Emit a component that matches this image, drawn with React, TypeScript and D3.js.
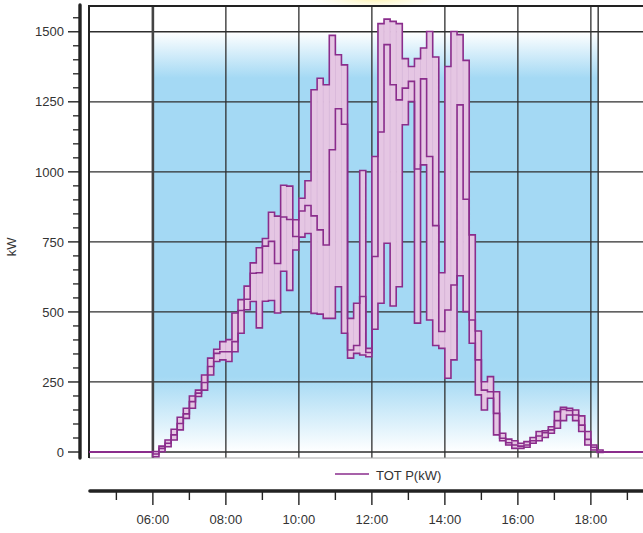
import React from "react";
import * as d3 from "d3";

// ---- data (10-minute intervals starting 06:00) ----
const startHour = 6;
const stepMinutes = 10;
const maxKW = [2, 21, 43, 81, 124, 156, 200, 221, 275, 335, 367, 394, 401, 496, 544, 592, 675, 729, 762, 856, 842, 952, 949, 829, 906, 968, 1293, 1334, 1311, 1487, 1418, 1382, 477, 531, 1005, 370, 1055, 1529, 1545, 1537, 1529, 1404, 1376, 1404, 1442, 1501, 1410, 640, 1376, 1501, 1490, 1398, 775, 432, 251, 269, 215, 67, 46, 40, 31, 37, 52, 73, 76, 90, 144, 160, 156, 150, 129, 73, 25, 7];
const avgKW = [-7, 13, 31, 61, 102, 136, 180, 210, 248, 305, 352, 358, 358, 394, 505, 545, 638, 640, 735, 752, 673, 839, 830, 769, 860, 880, 843, 793, 739, 1079, 1225, 1170, 364, 380, 555, 355, 698, 1142, 1454, 1311, 1257, 1299, 1323, 1010, 1332, 1055, 808, 430, 507, 596, 1239, 902, 471, 329, 221, 215, 138, 49, 33, 25, 21, 25, 40, 57, 69, 79, 112, 152, 148, 132, 96, 45, 17, 1];
const minKW = [-17, 1, 19, 43, 79, 120, 156, 198, 221, 275, 323, 329, 323, 358, 424, 508, 537, 443, 538, 541, 496, 645, 577, 721, 767, 780, 495, 492, 477, 477, 590, 424, 335, 352, 346, 340, 438, 531, 745, 521, 590, 1168, 1251, 460, 1025, 471, 380, 370, 263, 329, 629, 501, 388, 204, 150, 192, 61, 40, 25, 13, 13, 17, 31, 40, 52, 67, 85, 112, 132, 112, 73, 25, 7, -2];
const yTicks = [0, 250, 500, 750, 1000, 1250, 1500];
const xTickLabels = ["06:00", "08:00", "10:00", "12:00", "14:00", "16:00", "18:00"];
const seriesName = "TOT P(kW)";
const yLabel = "kW";
const sunriseHour = 6.0;
const sunsetHour = 18.2;

const W = 643;
const H = 533;
const FONT = "'Liberation Sans', Arial, Helvetica, sans-serif";
const PURPLE = "#8a2d8c";
const PINK = "#e5c6e3";
const BLUE = "#a4d9f4";
const GRID = "#2e2e2e";

function parseHour(s: string) {
  const [h, m] = s.split(":").map(Number);
  return h + m / 60;
}

export default function App() {
  const x = d3.scaleLinear().domain([4.25, 19.75]).range([89, 89 + 15.5 * 36.5]);
  const y = d3.scaleLinear().domain([-21.4, 1592]).range([458, 6]);

  const n = maxKW.length;
  const tAt = (i: number) => startHour + (i * stepMinutes) / 60;
  const tEnd = tAt(n);

  const buildSeries = (vals: number[]) => {
    const pts: [number, number][] = [[4.25, 0]];
    vals.forEach((v, i) => pts.push([tAt(i), v]));
    pts.push([tEnd, 0]);
    pts.push([19.75, 0]);
    return pts;
  };

  const line = d3
    .line<[number, number]>()
    .x((d) => x(d[0]))
    .y((d) => y(d[1]))
    .curve(d3.curveStepAfter);

  const plotL = 89;
  const plotR = W;
  const plotT = 6;
  const plotB = 458;

  const minorY = d3.range(50, 1600, 50).filter((v) => v % 250 !== 0);
  const hourTicks = d3.range(5, 20, 1);

  const xSunrise = x(sunriseHour);
  const xSunset = x(sunsetHour);

  return (
    <svg
      width={W}
      height={H}
      style={{ position: "absolute", left: 0, top: 0, background: "#fff" }}
      fontFamily={FONT}
    >
      <defs>
        <linearGradient id="dayGrad" x1="0" y1="0" x2="0" y2="1">
          <stop offset="0" stopColor="#ffffff" />
          <stop offset="0.11" stopColor={BLUE} />
          <stop offset="0.82" stopColor={BLUE} />
          <stop offset="1" stopColor="#ffffff" />
        </linearGradient>
        <radialGradient id="sunGrad" cx="0.5" cy="0.5" r="0.5">
          <stop offset="0" stopColor="#fff3a0" stopOpacity="0.95" />
          <stop offset="1" stopColor="#fffbe0" stopOpacity="0" />
        </radialGradient>
        <clipPath id="plotClip">
          <rect x={plotL} y={plotT} width={plotR - plotL} height={plotB - plotT} />
        </clipPath>
      </defs>

      {/* sun glow at the top */}
      <ellipse cx={375} cy={-2} rx={70} ry={12} fill="url(#sunGrad)" />

      {/* daylight band */}
      <rect
        x={xSunrise}
        y={y(1500)}
        width={xSunset - xSunrise}
        height={y(0) - y(1500)}
        fill="url(#dayGrad)"
      />

      {/* horizontal grid */}
      {yTicks.map((v) => (
        <line key={"hg" + v} x1={plotL} x2={plotR} y1={y(v)} y2={y(v)} stroke={GRID} strokeWidth={1.3} />
      ))}
      {/* vertical grid */}
      {xTickLabels.map((lbl) => (
        <line
          key={"vg" + lbl}
          x1={x(parseHour(lbl))}
          x2={x(parseHour(lbl))}
          y1={plotT}
          y2={plotB}
          stroke={GRID}
          strokeWidth={1.3}
        />
      ))}
      {/* sunrise / sunset markers */}
      <line x1={xSunrise} x2={xSunrise} y1={plotT} y2={plotB} stroke="#444" strokeWidth={2.6} />
      <line x1={xSunset} x2={xSunset} y1={plotT} y2={plotB} stroke="#333" strokeWidth={1.4} />

      {/* plot frame */}
      <line x1={plotL} x2={plotR} y1={plotT} y2={plotT} stroke="#222" strokeWidth={2} />
      <line x1={plotL} x2={plotR} y1={plotB} y2={plotB} stroke="#a8a8a8" strokeWidth={1.2} />
      <line x1={plotL} x2={plotL} y1={plotT - 1} y2={plotB} stroke="#222" strokeWidth={2} />

      {/* series */}
      <g clipPath="url(#plotClip)">
        {maxKW.map((mx, i) => (
          <rect
            key={"r" + i}
            x={x(tAt(i))}
            y={y(Math.max(mx, minKW[i]))}
            width={x(tAt(i + 1)) - x(tAt(i))}
            height={Math.abs(y(minKW[i]) - y(mx))}
            fill={PINK}
            stroke="#d9b6d9"
            strokeWidth={0.7}
          />
        ))}
        {[minKW, avgKW, maxKW].map((vals, k) => (
          <path
            key={"l" + k}
            d={line(buildSeries(vals)) || ""}
            fill="none"
            stroke={PURPLE}
            strokeWidth={1.6}
            strokeLinejoin="miter"
          />
        ))}
      </g>

      {/* y axis */}
      <line x1={80} x2={80} y1={5} y2={458} stroke="#222" strokeWidth={3.4} strokeLinecap="round" />
      {yTicks.map((v) => (
        <g key={"yt" + v}>
          <line x1={68} x2={80} y1={y(v)} y2={y(v)} stroke="#222" strokeWidth={1.4} />
          <text x={64} y={y(v)} dy="0.36em" textAnchor="end" fontSize={13} fill="#333">
            {v}
          </text>
        </g>
      ))}
      {minorY.map((v) => (
        <line key={"ym" + v} x1={73} x2={80} y1={y(v)} y2={y(v)} stroke="#222" strokeWidth={1.3} />
      ))}
      <text
        transform={`translate(16,${(y(0) + y(1500)) / 2 + 5}) rotate(-90)`}
        textAnchor="middle"
        fontSize={13}
        fill="#333"
      >
        {yLabel}
      </text>

      {/* legend */}
      <line x1={335} x2={369} y1={474} y2={474} stroke={PURPLE} strokeWidth={1.6} />
      <text x={376} y={479.5} fontSize={13} fill="#333">
        {seriesName}
      </text>

      {/* x axis */}
      <line x1={90} x2={W + 5} y1={491} y2={491} stroke="#222" strokeWidth={3.6} strokeLinecap="round" />
      {hourTicks.map((h) => (
        <line
          key={"xt" + h}
          x1={x(h)}
          x2={x(h)}
          y1={492}
          y2={h % 2 === 0 ? 505 : 500}
          stroke="#222"
          strokeWidth={1.4}
        />
      ))}
      {xTickLabels.map((lbl) => (
        <text key={"xl" + lbl} x={x(parseHour(lbl))} y={524} textAnchor="middle" fontSize={13} fill="#333">
          {lbl}
        </text>
      ))}
    </svg>
  );
}
